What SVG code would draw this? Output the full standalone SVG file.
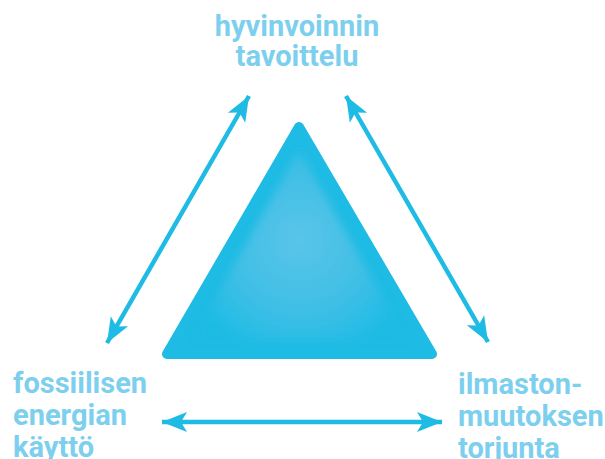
<svg xmlns="http://www.w3.org/2000/svg" width="605" height="459" viewBox="0 0 605 459">
  <style>
    .label { font-family: Roboto, "Liberation Sans", Arial, sans-serif; font-weight: bold; font-size: 29px; fill: #7dcfee; }
    .link { stroke: #1ebbe4; stroke-width: 4.5; fill: none; }
  </style>
  <defs>
    <marker id="head" markerUnits="userSpaceOnUse" markerWidth="32" markerHeight="26" viewBox="-28 -13 32 26" refX="0" refY="0" orient="auto-start-reverse">
      <path d="M0,0 L-25,-10 L-19,0 L-25,10 Z" fill="#1ebbe4"/>
    </marker>
    <radialGradient id="glow" cx="300" cy="240" r="120" gradientUnits="userSpaceOnUse">
      <stop offset="0" stop-color="#5ac4e8"/>
      <stop offset="0.6" stop-color="#3fbfe6"/>
      <stop offset="1" stop-color="#1ebbe4"/>
    </radialGradient>
    <filter id="soft" x="-10%" y="-10%" width="120%" height="120%">
      <feGaussianBlur stdDeviation="4"/>
    </filter>
  </defs>

  <!-- central triangle -->
  <g id="triangle">
    <polygon points="299,127 167,354 432,354" fill="#1ebbe4" stroke="#1ebbe4" stroke-width="10" stroke-linejoin="round"/>
    <polygon points="299,150 192,340 407,340" fill="url(#glow)" filter="url(#soft)"/>
  </g>

  <!-- two-way connectors between the three goals -->
  <g id="connectors">
    <line class="link" x1="107" y1="343" x2="249" y2="96" marker-start="url(#head)" marker-end="url(#head)"/>
    <line class="link" x1="346" y1="96" x2="488" y2="342" marker-start="url(#head)" marker-end="url(#head)"/>
    <line class="link" x1="162" y1="422" x2="442" y2="422" marker-start="url(#head)" marker-end="url(#head)"/>
  </g>

  <g id="node-top">
    <text class="label" text-anchor="middle"><tspan x="297" y="36">hyvinvoinnin</tspan><tspan x="297" y="66">tavoittelu</tspan></text>
  </g>
  <g id="node-left">
    <text class="label"><tspan x="13" y="393">fossiilisen</tspan><tspan x="13" y="425">energian</tspan><tspan x="13" y="457">käyttö</tspan></text>
  </g>
  <g id="node-right">
    <text class="label"><tspan x="458" y="394">ilmaston-</tspan><tspan x="458" y="426">muutoksen</tspan><tspan x="458" y="458">torjunta</tspan></text>
  </g>
</svg>
